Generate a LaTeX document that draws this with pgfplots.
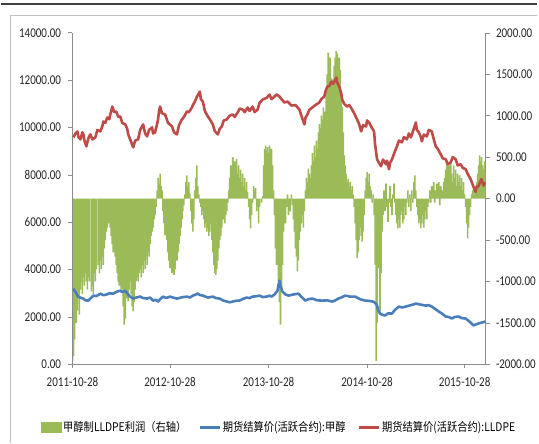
\documentclass[border=0pt]{standalone}
\usepackage{fontspec}
\setmainfont[FakeStretch=0.82]{Carlito}
\newfontfamily\cjk[FakeStretch=0.86]{Noto Sans CJK SC}
\usepackage{pgfplots}
\pgfplotsset{compat=1.18}
\definecolor{cgreen}{HTML}{9BBB59}
\definecolor{cblue}{HTML}{4A7EBB}
\definecolor{cred}{HTML}{BE4B48}
\definecolor{caxis}{HTML}{8C8C8C}
\begin{document}
\begin{tikzpicture}[x=1pt,y=1pt]
\path (0,0) rectangle (539,445);
\draw[line width=1.6pt, black!75] (0,441) -- (539,441);
\draw[line width=0.8pt, black!25] (10,0) -- (10,430) -- (539,430);
\pgfplotsset{every axis/.append style={scale only axis, width=415pt, height=333pt,
  at={(72pt,79pt)}, anchor=south west, xmin=0, xmax=415,
  axis line style={draw=caxis, line width=0.7pt},
  tick style={draw=caxis, line width=0.7pt}, tick align=outside, major tick length=4pt,
  scaled y ticks=false,
  /pgf/number format/assume math mode=true,
  tick label style={font=\fontsize{13.5}{14}\selectfont, text=black!85},
  yticklabel style={/pgf/number format/fixed, /pgf/number format/fixed zerofill,
    /pgf/number format/precision=2, /pgf/number format/1000 sep={}}}}
\begin{axis}[axis y line*=right, axis x line=none, ymin=-2000, ymax=2000,
  ytick={-2000,-1500,...,2000}, yticklabel style={xshift=3pt}]
\addplot[ybar, bar width=1.6, fill=cgreen, draw=none] coordinates {
(0,-1960)(1,-1900)(2,-1700)(3,-1480)(4,-1500)(5,-1350)(6,-1200)(7,-1400)(8,-1100)(9,-1000)
(10,-1150)(11,-950)(12,-1050)(13,-900)(14,-1000)(15,-1100)(16,-950)(17,-1000)(18,0)(19,-1120)
(20,-1050)(21,-1150)(22,-900)(23,-1000)(24,-850)(25,0)(26,-800)(27,-900)(28,-750)(29,-850)
(30,-700)(31,-800)(32,-600)(33,-500)(34,-400)(35,-350)(36,-300)(37,-280)(38,-350)(39,-450)
(40,-550)(41,-650)(42,0)(43,-700)(44,-800)(45,-900)(46,-1000)(47,-1050)(48,-900)(49,-1100)
(50,0)(51,-1300)(52,-1520)(53,-1450)(54,-1200)(55,-1050)(56,-1240)(57,-1100)(58,-1000)(59,-1150)
(60,-1300)(61,-1360)(62,-1250)(63,-1100)(64,-1000)(65,-950)(66,-1000)(67,-900)(68,-850)(69,-950)
(70,-800)(71,-900)(72,-750)(73,-850)(74,-700)(75,-800)(76,-650)(77,-700)(78,-550)(79,-450)
(80,-400)(81,-350)(82,-250)(83,-200)(84,-100)(85,100)(86,250)(87,180)(88,300)(89,150)
(90,100)(91,-150)(92,-300)(93,-440)(94,-350)(95,-500)(96,-650)(97,-750)(98,-840)(99,-700)
(100,-900)(101,-800)(102,-920)(103,-850)(104,-700)(105,-750)(106,-650)(107,-550)(108,-450)(109,-350)
(110,-250)(111,-150)(112,-80)(113,50)(114,200)(115,280)(116,150)(117,200)(118,60)(119,-150)
(120,-300)(121,-400)(122,-250)(123,100)(124,250)(125,400)(126,150)(127,50)(128,-50)(129,-100)
(130,-200)(131,-150)(132,-250)(133,-350)(134,-300)(135,-400)(136,-350)(137,-450)(138,-400)(139,-300)
(140,-500)(141,-650)(142,-800)(143,-900)(144,-920)(145,-850)(146,-750)(147,-600)(148,-500)(149,-450)
(150,-350)(151,-250)(152,-200)(153,-300)(154,-200)(155,-150)(156,-50)(157,100)(158,250)(159,400)
(160,350)(161,500)(162,300)(163,450)(164,350)(165,480)(166,300)(167,400)(168,250)(169,350)
(170,200)(171,300)(172,150)(173,250)(174,100)(175,200)(176,80)(177,-100)(178,-250)(179,-360)
(180,-200)(181,-50)(182,150)(183,100)(184,130)(185,-150)(186,-100)(187,-300)(188,-100)(189,0)
(190,-50)(191,30)(192,400)(193,600)(194,640)(195,580)(196,620)(197,550)(198,640)(199,500)
(200,600)(201,400)(202,100)(203,-200)(204,-600)(205,-800)(206,-700)(207,-1000)(208,-1250)(209,-1520)
(210,-1100)(211,-800)(212,-400)(213,-200)(214,-300)(215,-100)(216,50)(217,-200)(218,-100)(219,-150)
(220,50)(221,-80)(222,-250)(223,-400)(224,-600)(225,-700)(226,-880)(227,-750)(228,-500)(229,-400)
(230,-300)(231,-200)(232,-350)(233,-150)(234,100)(235,250)(236,200)(237,360)(238,300)(239,250)
(240,400)(241,550)(242,450)(243,640)(244,500)(245,700)(246,600)(247,800)(248,900)(249,850)
(250,1000)(251,950)(252,1100)(253,1050)(254,1000)(255,1300)(256,1500)(257,1760)(258,1600)(259,1700)
(260,1450)(261,0)(262,1440)(263,1600)(264,1700)(265,1780)(266,1750)(267,1650)(268,1700)(269,1550)
(270,1240)(271,1100)(272,800)(273,520)(274,400)(275,300)(276,200)(277,240)(278,150)(279,200)
(280,100)(281,150)(282,50)(283,-100)(284,-300)(285,-500)(286,-720)(287,-650)(288,-500)(289,-350)
(290,-450)(291,-520)(292,-400)(293,-200)(294,100)(295,250)(296,320)(297,200)(298,300)(299,150)
(300,100)(301,-50)(302,50)(303,-200)(304,-800)(305,-1960)(306,-1500)(307,-600)(308,-840)(309,-1360)
(310,-900)(311,-400)(312,-200)(313,100)(314,-150)(315,180)(316,-100)(317,-280)(318,-50)(319,150)
(320,-100)(321,-200)(322,50)(323,180)(324,-50)(325,-200)(326,-300)(327,-360)(328,-250)(329,-350)
(330,-200)(331,-150)(332,-300)(333,-250)(334,-100)(335,-200)(336,-50)(337,100)(338,-100)(339,50)
(340,-150)(341,100)(342,-50)(343,200)(344,280)(345,100)(346,-100)(347,-200)(348,-300)(349,-250)
(350,-360)(351,-300)(352,-200)(353,-350)(354,-250)(355,-150)(356,-250)(357,-100)(358,-50)(359,100)
(360,-50)(361,150)(362,50)(363,200)(364,-50)(365,100)(366,180)(367,50)(368,200)(369,-80)
(370,150)(371,50)(372,100)(373,200)(374,250)(375,350)(376,440)(377,300)(378,400)(379,350)
(380,440)(381,300)(382,200)(383,400)(384,250)(385,350)(386,150)(387,300)(388,200)(389,280)
(390,150)(391,250)(392,100)(393,200)(394,50)(395,-100)(396,-300)(397,-480)(398,-350)(399,-200)
(400,-100)(401,50)(402,100)(403,150)(404,50)(405,100)(406,200)(407,300)(408,400)(409,520)
(410,450)(411,500)(412,400)(413,350)(414,450)(415,300)
};
\end{axis}
\begin{axis}[axis y line*=left, axis x line*=bottom, ymin=0, ymax=14000,
  ytick={0,2000,...,14000}, yticklabel style={xshift=-4pt},
  xtick={0,98,197,296,394}, xticklabel style={yshift=-6pt},
  xticklabels={2011-10-28,2012-10-28,2013-10-28,2014-10-28,2015-10-28},
  legend style={at={(0.5,-0.19)}, anchor=center, draw=none, fill=none,
    font=\cjk\fontsize{12}{13}\selectfont, legend columns=3,
    /tikz/every even column/.append style={column sep=10pt}},
  legend cell align=left]
\addlegendimage{legend image code/.code={\fill[cgreen] (0pt,-5pt) rectangle (20pt,5pt);}}
\addlegendentry{甲醇制LLDPE利润（右轴）}
\addplot[cblue, line width=2.6pt, line join=round,
  legend image code/.code={\draw[cblue,line width=2.6pt] (0pt,0pt)--(20pt,0pt);}] coordinates {
(1,3195)(2,3100)(3,3069)(5,2901)(6,2850)(8,2817)(11,2775)(13,2700)(16,2691)(18,2780)
(21,2901)(24,2880)(28,2985)(31,2920)(34,2943)(37,3000)(41,2985)(44,3060)(48,3111)(50,3050)
(53,3111)(55,3000)(58,2859)(61,2775)(64,2820)(68,2859)(71,2800)(75,2775)(78,2820)(81,2691)
(84,2720)(86,2649)(88,2750)(91,2859)(94,2800)(98,2859)(101,2820)(105,2775)(110,2830)(115,2859)
(118,2820)(121,2901)(124,2950)(126,2985)(128,2930)(131,2901)(136,2820)(141,2859)(144,2800)(148,2775)
(151,2700)(155,2649)(158,2620)(161,2649)(165,2690)(168,2691)(171,2760)(175,2817)(178,2800)(181,2859)
(184,2870)(188,2901)(191,2840)(195,2859)(198,2900)(200,2859)(203,2950)(206,3111)(207,3350)(208,3531)
(209,3300)(211,3069)(214,2950)(217,2901)(222,2950)(227,2985)(230,2850)(234,2691)(237,2750)(241,2775)
(246,2700)(251,2691)(256,2700)(261,2649)(264,2700)(267,2775)(270,2820)(274,2901)(279,2860)(284,2859)
(289,2750)(294,2691)(298,2680)(302,2649)(304,2600)(306,2480)(307,2300)(309,2144)(311,2100)(314,2060)
(317,2150)(321,2144)(324,2300)(328,2438)(331,2400)(335,2438)(340,2500)(345,2564)(350,2520)(355,2480)
(358,2500)(361,2438)(364,2350)(368,2228)(371,2150)(375,2018)(378,2000)(381,1934)(384,2000)(388,2018)
(391,1950)(395,1934)(399,1800)(403,1640)(405,1680)(408,1724)(411,1760)(415,1808)
};
\addlegendentry{期货结算价(活跃合约):甲醇}
\addplot[cred, line width=2.6pt, line join=round,
  legend image code/.code={\draw[cred,line width=2.6pt] (0pt,0pt)--(20pt,0pt);}] coordinates {
(1,9585)(3,9750)(5,9837)(6,9600)(8,9500)(10,9800)(11,9711)(12,9450)(14,9207)(16,9550)
(18,9711)(20,9500)(23,9585)(25,9900)(28,9837)(30,10050)(31,10258)(33,10200)(35,10426)(37,10350)
(38,10552)(39,10700)(40,10888)(42,10650)(44,10678)(46,10450)(48,10468)(50,10200)(53,10132)(55,9950)
(56,9711)(58,9500)(61,9165)(63,9450)(66,9501)(68,9900)(71,10132)(73,9750)(75,9627)(77,9900)
(80,10006)(81,9750)(83,9795)(85,10150)(86,10342)(87,10700)(88,10888)(90,10600)(93,10552)(96,10200)
(100,10048)(102,9800)(105,9711)(107,10100)(110,10342)(112,10450)(115,10678)(117,10650)(120,10846)(121,10950)
(123,11099)(125,11300)(128,11519)(129,11200)(131,11099)(133,10700)(136,10468)(138,10350)(141,10132)(143,9850)
(146,9711)(148,9950)(150,10048)(152,10300)(155,10342)(158,10500)(161,10552)(163,10450)(166,10636)(168,10800)
(171,10762)(173,10650)(176,10846)(178,10700)(181,10888)(183,10650)(186,10762)(188,11050)(191,11183)(195,11250)
(198,11393)(200,11200)(203,11309)(205,11400)(208,11309)(210,11200)(213,11056)(216,11100)(220,10930)(224,10950)
(228,10762)(230,10500)(233,10132)(234,10400)(236,10552)(238,10750)(241,10846)(244,10950)(248,11056)(250,11200)
(253,11309)(254,11500)(256,11729)(258,11750)(260,11939)(262,11850)(265,12108)(266,11900)(268,11729)(270,11450)
(271,11183)(273,11000)(276,10888)(278,10950)(281,10762)(283,10600)(286,10342)(288,10150)(290,9837)(292,10100)
(295,10048)(296,10300)(298,10216)(300,10050)(303,9837)(304,9300)(306,8660)(308,8500)(310,8366)(312,8650)
(315,8450)(316,8600)(318,8240)(319,8500)(321,8660)(324,9000)(326,9207)(328,9450)(331,9375)(333,9600)
(336,9501)(338,9750)(340,9585)(343,9950)(345,10216)(346,9900)(348,9795)(350,9600)(351,9417)(353,9700)
(356,9627)(358,9900)(361,9837)(363,9500)(365,9207)(367,9100)(370,8870)(372,8700)(375,8660)(377,8450)
(380,8534)(382,8750)(385,8660)(387,8400)(390,8450)(392,8300)(395,8240)(397,8050)(400,7819)(402,7600)
(405,7273)(406,7500)(408,7525)(410,7750)(411,7819)(413,7550)(415,7693)
};
\addlegendentry{期货结算价(活跃合约):LLDPE}
\end{axis}
\end{tikzpicture}
\end{document}
